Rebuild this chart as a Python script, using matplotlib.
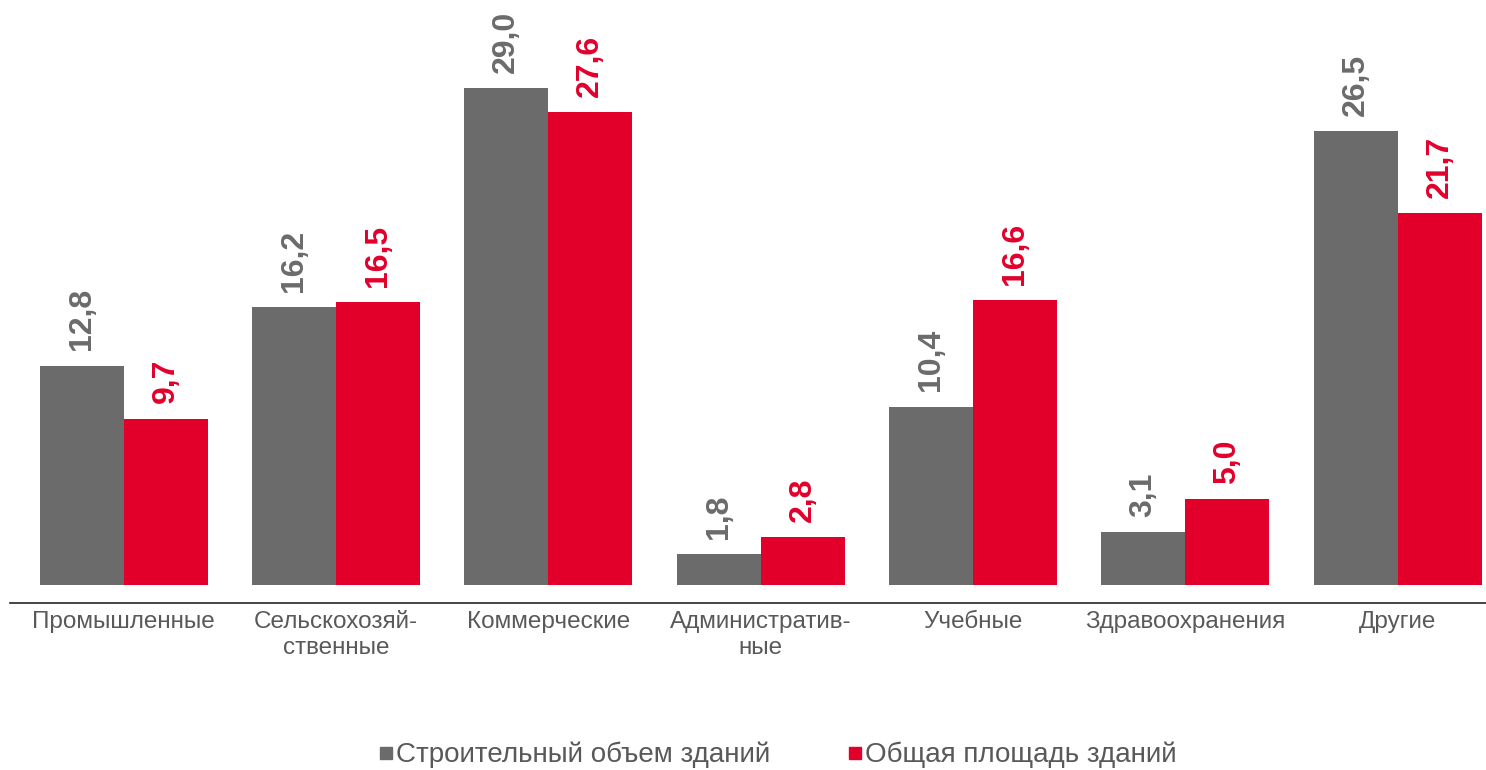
import matplotlib.pyplot as plt
from matplotlib.lines import Line2D
import numpy as np

plt.rcParams['font.family'] = ['Liberation Sans', 'DejaVu Sans']

categories = ['Промышленные', 'Сельскохозяй-\nственные', 'Коммерческие',
              'Административ-\nные', 'Учебные', 'Здравоохранения', 'Другие']
volume = [12.8, 16.2, 29.0, 1.8, 10.4, 3.1, 26.5]
area = [9.7, 16.5, 27.6, 2.8, 16.6, 5.0, 21.7]
series_names = ['Строительный объем зданий', 'Общая площадь зданий']

grey = '#6B6B6B'
red = '#E2002B'
text_grey = '#595959'

fig = plt.figure(figsize=(14.86, 7.7), dpi=100)
ax = fig.add_axes([10 / 1486, 167 / 770, 1480 / 1486, 603 / 770])

x = np.arange(len(categories))
w = 0.396
b1 = ax.bar(x - w / 2, volume, w, color=grey)
b2 = ax.bar(x + w / 2, area, w, color=red)

def fmt(v):
    return f'{v:.1f}'.replace('.', ',')

for bars, vals, col in [(b1, volume, grey), (b2, area, red)]:
    for bar, v in zip(bars, vals):
        ax.annotate(fmt(v), (bar.get_x() + bar.get_width() / 2, v),
                    xytext=(0, 11), textcoords='offset points',
                    rotation=90, ha='center', va='bottom',
                    fontsize=23, fontweight='bold', color=col)

ax.set_xlim(-0.535, 6.435)
ax.set_ylim(-1.05, 34.13)
ax.set_yticks([])
ax.set_xticks(x)
ax.set_xticklabels(categories, fontsize=17.5, color=text_grey, linespacing=1.2)
ax.tick_params(axis='x', length=0, pad=6)
for s in ['top', 'left', 'right']:
    ax.spines[s].set_visible(False)
ax.spines['bottom'].set_color('#262626')
ax.spines['bottom'].set_linewidth(1.2)

handles = [Line2D([], [], marker='s', linestyle='none', markersize=8.6, color=grey),
           Line2D([], [], marker='s', linestyle='none', markersize=8.6, color=red)]
leg = fig.legend(handles, series_names, loc='center', bbox_to_anchor=(778 / 1486, 1 - 755 / 770),
                 ncol=2, frameon=False, fontsize=20, handlelength=0.5, handletextpad=0.1,
                 columnspacing=2.8)
for t in leg.get_texts():
    t.set_color(text_grey)

fig.savefig('out.png', dpi=100)
